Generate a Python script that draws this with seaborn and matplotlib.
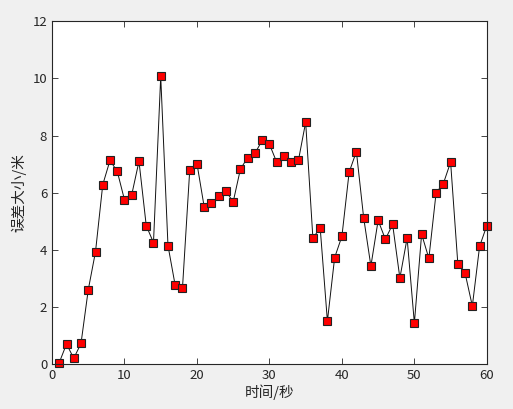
import numpy as np
import pandas as pd
import matplotlib
matplotlib.use("Agg")
import matplotlib.pyplot as plt
import seaborn as sns

# time in seconds and error in metres
time_s = list(range(1, 61))
error_m = [0.05, 0.70, 0.20, 0.72, 2.60, 3.93, 6.28, 7.13, 6.75, 5.75,
           5.93, 7.10, 4.85, 4.25, 10.07, 4.15, 2.75, 2.65, 6.78, 7.02,
           5.50, 5.65, 5.87, 6.05, 5.68, 6.83, 7.23, 7.38, 7.83, 7.70,
           7.07, 7.27, 7.07, 7.13, 8.47, 4.40, 4.78, 1.50, 3.73, 4.47,
           6.72, 7.44, 5.13, 3.43, 5.03, 4.37, 4.89, 3.01, 4.41, 1.43,
           4.55, 3.70, 6.00, 6.32, 7.07, 3.50, 3.18, 2.03, 4.12, 4.85]
x_ticks = [0, 10, 20, 30, 40, 50, 60]
y_ticks = [0, 2, 4, 6, 8, 10, 12]

sns.set_style("ticks")
plt.rcParams['font.family'] = ['Noto Sans CJK SC', 'DejaVu Sans']

df = pd.DataFrame({'t': time_s, 'err': error_m})

fig = plt.figure(figsize=(5.13, 4.09), dpi=100, facecolor='#f0f0f0')
ax = fig.add_axes([0.1014, 0.110, 0.8476, 0.8377])
ax.set_facecolor('white')

sns.lineplot(data=df, x='t', y='err', ax=ax, color='#111111', linewidth=0.7,
             marker='s', markersize=5.5, markerfacecolor='red',
             markeredgecolor='#222222', markeredgewidth=0.8, clip_on=False)

ax.set_xlim(0, 60)
ax.set_ylim(0, 12)
ax.set_xticks(x_ticks)
ax.set_yticks(y_ticks)
ax.tick_params(direction='in', top=True, right=True, length=4, width=0.6,
               labelsize=9.5, labelcolor='#262626', color='#262626')
for s in ax.spines.values():
    s.set_visible(True)
    s.set_linewidth(0.8)
    s.set_color('#262626')

ax.set_xlabel('时间/秒', fontsize=10.5, color='#262626', labelpad=2)
ax.set_ylabel('误差大小/米', fontsize=10.5, color='#262626', labelpad=4)

fig.savefig('out.png', dpi=100, facecolor=fig.get_facecolor())
